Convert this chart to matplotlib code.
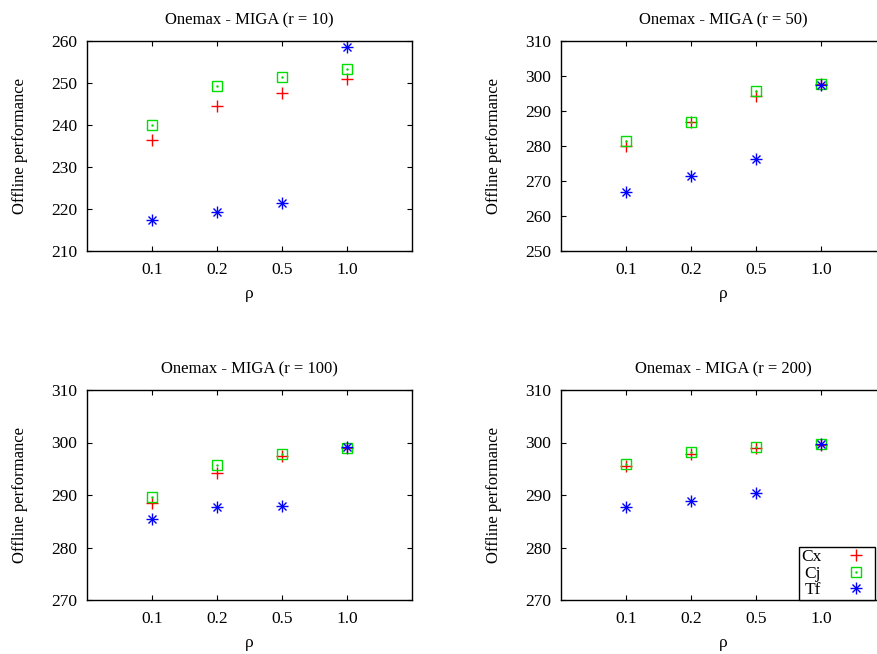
import matplotlib
matplotlib.use("Agg")
import matplotlib.pyplot as plt
from matplotlib.legend_handler import HandlerTuple

plt.rcParams['font.family'] = ['Liberation Serif', 'DejaVu Serif']
plt.rcParams['font.size'] = 12

rho_labels = ["0.1", "0.2", "0.5", "1.0"]
run_lengths = [10, 50, 100, 200]

cx_r10 = [236.4, 244.5, 247.7, 251.0]
cj_r10 = [239.9, 249.2, 251.4, 253.3]
tf_r10 = [217.5, 219.3, 221.4, 258.5]

cx_r50 = [280.1, 286.9, 294.2, 297.6]
cj_r50 = [281.3, 287.0, 295.6, 297.8]
tf_r50 = [266.8, 271.3, 276.4, 297.5]

cx_r100 = [288.5, 294.2, 297.4, 299.0]
cj_r100 = [289.6, 295.7, 297.8, 299.0]
tf_r100 = [285.5, 287.7, 288.0, 299.1]

cx_r200 = [295.6, 297.8, 298.9, 299.5]
cj_r200 = [295.9, 298.1, 299.1, 299.7]
tf_r200 = [287.8, 288.9, 290.3, 299.7]

y_limits = [(210, 260), (250, 310), (270, 310), (270, 310)]

series = [
    (cx_r10, cj_r10, tf_r10),
    (cx_r50, cj_r50, tf_r50),
    (cx_r100, cj_r100, tf_r100),
    (cx_r200, cj_r200, tf_r200),
]

W, H = 878, 654
fig = plt.figure(figsize=(W / 100, H / 100), dpi=100)

# panel frames in pixel units (left, top), all the same size
frames = [(87, 41), (561, 41), (87, 390), (561, 390)]
pw, ph = 325, 210

red, green, blue = "#ff0000", "#00dd00", "#0000ff"

for i, ((left, top), (cx, cj, tf), r, (y0, y1)) in enumerate(
        zip(frames, series, run_lengths, y_limits)):
    ax = fig.add_axes([left / W, 1 - (top + ph) / H, pw / W, ph / H])
    xs = list(range(1, len(rho_labels) + 1))

    h_cx, = ax.plot(xs, cx, linestyle="none", marker="+", color=red,
                    markersize=8, markeredgewidth=1.0)
    h_cj, = ax.plot(xs, cj, linestyle="none", marker="s", markerfacecolor="none",
                    markeredgecolor=green, markersize=6.5, markeredgewidth=1.0)
    h_dot, = ax.plot(xs, cj, linestyle="none", marker=".", color=green, markersize=1.5)
    h_tf1, = ax.plot(xs, tf, linestyle="none", marker="+", color=blue,
                     markersize=8, markeredgewidth=1.0)
    h_tf2, = ax.plot(xs, tf, linestyle="none", marker="x", color=blue,
                     markersize=6, markeredgewidth=1.0)

    ax.set_xlim(0, len(rho_labels) + 1)
    ax.set_ylim(y0, y1)
    ax.set_xticks(xs)
    ax.set_xticklabels(rho_labels)
    ax.set_yticks(range(y0, y1 + 1, 10))
    ax.tick_params(direction="in", length=3.5, width=0.8, top=True, right=True,
                   labelsize=12.5)
    ax.tick_params(axis="x", pad=8)
    ax.tick_params(axis="y", pad=7)
    for s in ax.spines.values():
        s.set_linewidth(1.0)

    ax.set_title(f"Onemax - MIGA (r = {r})", fontsize=12, pad=12)
    ax.set_xlabel("ρ", fontsize=12.5, labelpad=6)
    ax.set_ylabel("Offline performance", fontsize=12)
    ax.yaxis.set_label_coords(-0.183, 0.5)

    if i == 3:
        leg = ax.legend([h_cx, (h_cj, h_dot), (h_tf1, h_tf2)], ["Cx", "Cj", "Tf"],
                        handler_map={tuple: HandlerTuple(ndivide=1, pad=0)},
                        loc="lower right", bbox_to_anchor=(0.966, 0.0),
                        markerfirst=False, fancybox=False, framealpha=1,
                        edgecolor="black", fontsize=12.5, borderpad=0.1,
                        labelspacing=0.02, handlelength=2.0, handletextpad=1.0,
                        borderaxespad=0)
        leg.get_frame().set_linewidth(1.0)

fig.savefig("out.png", dpi=100)
